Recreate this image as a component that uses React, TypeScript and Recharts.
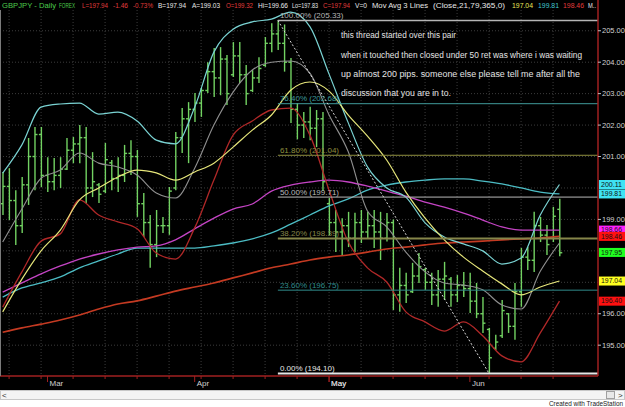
import React from 'react';
import { ComposedChart, Bar, Line, XAxis, YAxis, CartesianGrid, ReferenceLine, ReferenceDot } from 'recharts';

// daily OHLC, GBPJPY
const highs = [200.51, 200.63, 199.93, 200.35, 201.59, 201.94, 201.94, 200.98, 200.95, 200.98,
  201.59, 201.62, 202.00, 201.94, 201.14, 200.16, 201.43, 200.89, 200.98, 201.37,
  201.52, 201.21, 199.84, 199.14, 199.30, 199.08, 200.03, 201.78, 202.54, 202.73,
  203.02, 203.18, 204.00, 204.45, 204.48, 204.23, 204.64, 204.64, 203.91, 203.75,
  204.16, 204.80, 205.24, 205.33, 205.20, 204.13, 202.70, 202.42, 202.58, 202.48,
  202.42, 199.68, 199.30, 199.04, 199.24, 199.21, 199.30, 199.24, 199.30, 199.24,
  199.20, 199.00, 197.46, 197.30, 197.62, 197.93, 197.46, 197.30, 197.39, 197.65,
  197.17, 197.23, 197.33, 197.30, 196.98, 196.53, 195.55, 195.33, 196.44, 196.02,
  196.98, 198.09, 198.12, 199.24, 199.08, 198.82, 199.40, 199.66];
const lows = [199.14, 198.98, 198.19, 198.57, 199.46, 199.93, 200.03, 199.87, 199.93, 200.00,
  200.57, 200.79, 200.79, 199.52, 199.71, 199.52, 199.84, 199.93, 199.87, 200.19,
  200.41, 199.08, 198.44, 197.46, 197.80, 198.57, 198.51, 199.93, 201.11, 200.79,
  202.10, 202.26, 203.02, 202.89, 202.95, 202.64, 203.53, 203.34, 202.64, 203.05,
  203.34, 203.85, 204.32, 204.39, 203.70, 202.07, 201.55, 201.59, 201.52, 201.30,
  199.90, 198.50, 197.96, 197.87, 198.12, 197.96, 198.25, 198.40, 198.09, 197.71,
  198.30, 196.12, 196.06, 196.34, 196.66, 196.98, 196.76, 196.28, 196.22, 196.44,
  196.22, 196.37, 196.53, 196.02, 195.86, 195.39, 194.10, 194.85, 195.23, 195.39,
  195.17, 196.22, 197.39, 197.33, 198.28, 197.87, 198.28, 197.83];
const opens = [199.50, 200.05, 199.60, 198.80, 200.10, 201.00, 201.70, 200.40, 200.20, 200.40,
  200.60, 201.20, 201.40, 201.60, 200.00, 200.10, 199.90, 200.80, 200.30, 200.40,
  201.10, 201.00, 199.50, 198.90, 198.20, 198.80, 198.80, 200.00, 201.60, 202.20,
  202.50, 202.70, 203.10, 203.70, 203.50, 204.10, 203.60, 204.20, 203.60, 203.10,
  203.50, 203.90, 204.60, 204.90, 204.60, 204.00, 202.50, 202.00, 202.10, 201.90,
  202.20, 199.50, 198.90, 198.60, 198.80, 198.40, 198.90, 198.60, 198.80, 198.60,
  198.40, 198.90, 196.60, 196.90, 196.70, 197.20, 197.40, 197.00, 196.60, 197.10,
  197.10, 196.60, 196.90, 196.80, 196.40, 196.00, 195.50, 194.90, 195.30, 196.00,
  195.60, 196.70, 197.80, 197.70, 198.80, 198.50, 198.40, 199.32];
const closes = [200.05, 199.60, 198.80, 200.10, 201.00, 201.70, 200.40, 200.20, 200.40, 200.60,
  201.20, 201.40, 201.60, 200.00, 200.20, 199.80, 200.90, 200.30, 200.40, 201.10,
  201.00, 199.50, 198.90, 198.20, 198.80, 198.80, 199.90, 201.60, 202.20, 202.50,
  202.70, 203.10, 203.70, 203.50, 204.10, 203.00, 204.20, 203.60, 203.00, 203.50,
  203.80, 204.60, 204.90, 204.60, 204.00, 202.50, 202.00, 202.10, 201.90, 202.20,
  200.20, 198.90, 198.60, 198.80, 198.40, 198.90, 198.60, 198.80, 198.60, 198.40,
  198.90, 196.60, 196.90, 196.60, 197.20, 197.50, 197.00, 196.60, 197.10, 197.20,
  196.60, 196.90, 196.80, 196.40, 196.00, 195.70, 194.60, 195.10, 196.10, 195.60,
  196.70, 197.80, 197.70, 198.80, 198.50, 198.20, 199.10, 197.94];

// indicator lines, read every third bar
const lineIdx = [0, 3, 6, 9, 12, 15, 18, 21, 24, 27, 30, 33, 36, 39, 42, 45, 48, 51, 54, 57, 60, 63, 66, 69, 72, 75, 78, 81, 84, 87];
const upperBand = [200.47, 201.37, 202.57, 202.67, 202.70, 202.35, 202.41, 202.13, 201.52, 201.40,
  202.57, 204.32, 205.05, 205.28, 205.37, 205.59, 205.13, 203.62, 202.07, 200.67,
  200.00, 199.71, 198.89, 198.44, 198.22, 198.00, 197.58, 197.77, 199.14, 200.11];
const midBand = [198.28, 199.33, 200.31, 200.57, 201.11, 200.79, 200.67, 200.41, 199.84, 199.68,
  200.63, 202.00, 203.05, 203.75, 204.00, 204.04, 203.65, 202.32, 201.15, 199.27,
  198.76, 197.96, 197.33, 196.98, 196.91, 196.76, 196.28, 196.15, 197.35, 198.25];
const lowerBand = [196.21, 197.33, 198.31, 198.54, 199.62, 199.14, 198.92, 198.70, 197.93, 197.74,
  198.73, 200.25, 201.68, 202.13, 202.48, 202.54, 201.68, 199.93, 198.28, 197.46,
  197.01, 196.06, 195.74, 195.45, 195.74, 195.30, 194.66, 194.47, 195.39, 196.40];
const ma21 = [196.06, 197.10, 198.00, 198.66, 199.62, 200.00, 200.35, 200.57, 200.48, 200.25,
  200.51, 200.79, 201.30, 201.84, 202.32, 203.11, 203.37, 203.08, 202.32, 201.65,
  200.89, 199.87, 199.04, 198.35, 197.80, 197.36, 196.95, 196.60, 196.85, 197.04];
const ma79 = [196.53, 196.82, 196.98, 197.17, 197.46, 197.68, 197.90, 198.09, 198.09, 198.09,
  198.09, 198.16, 198.25, 198.38, 198.57, 198.85, 199.14, 199.43, 199.65, 199.93,
  200.09, 200.19, 200.25, 200.29, 200.29, 200.22, 200.13, 200.00, 199.87, 199.81];
const ma365 = [195.41, 195.55, 195.67, 195.80, 195.96, 196.15, 196.31, 196.41, 196.56, 196.72,
  196.85, 196.98, 197.14, 197.30, 197.46, 197.58, 197.71, 197.80, 197.87, 197.96,
  198.06, 198.12, 198.19, 198.25, 198.28, 198.31, 198.35, 198.38, 198.41, 198.46];
const maMagenta = [196.69, 196.98, 197.27, 197.52, 197.74, 197.90, 198.03, 198.12, 198.16, 198.35,
  198.70, 199.04, 199.33, 199.49, 199.90, 200.09, 200.19, 200.25, 200.19, 200.06,
  199.90, 199.74, 199.55, 199.39, 199.20, 198.98, 198.76, 198.66, 198.66, 198.66];

const monthTicks = [7, 30, 51, 73];
const monthNames = ['Mar', 'Apr', 'May', 'Jun'];
const weekTicks = [1, 6, 11, 16, 21, 26, 31, 36, 41, 46, 51, 56, 61, 66, 71, 76, 81, 86];
const priceTicks = [195, 196, 199, 201, 202, 203, 204, 205];
const priceGrid = [195, 196, 197, 198, 199, 200, 201, 202, 203, 204, 205];

// fibonacci retracement from the high bar to the low bar
const fibHighBar = 43;
const fibLowBar = 76;
const fibNames = ['100.00%', '76.40%', '61.80%', '50.00%', '38.20%', '23.60%', '0.00%'];
const fibPrices = [205.33, 202.68, 201.04, 199.71, 198.39, 196.75, 194.10];
const fibColors = ['#b4b4b4', '#3f9a9a', '#8f8f3f', '#b8b8b8', '#86864a', '#2f8a8a', '#e6e6e6'];
const fibWidths = [1.5, 1, 1, 1, 2, 1, 2];

// last values shown on the price scale
const markValues = [200.11, 199.81, 198.66, 198.46, 197.95, 197.04, 196.40];
const markColors = ['#3fe3f3', '#3fe3f3', '#ff20ff', '#ff1010', '#20ff20', '#ffff20', '#ff1010'];

const xMin = -0.42;
const xMax = 93.02;
const yMin = 194.02;
const yMax = 205.66;

const data = highs.map((h, i) => {
  const row: any = { i, range: [lows[i], h], open: opens[i], close: closes[i] };
  const k = lineIdx.indexOf(i);
  if (k >= 0) {
    row.ub = upperBand[k];
    row.mb = midBand[k];
    row.lb = lowerBand[k];
    row.ma21 = ma21[k];
    row.ma79 = ma79[k];
    row.ma365 = ma365[k];
    row.mag = maMagenta[k];
  }
  return row;
});

const xTicks = [...weekTicks, ...monthTicks].sort((a, b) => a - b);

const OhlcBar = (props: any) => {
  const { x, y, width, height, payload } = props;
  const top = Math.min(y, y + height);
  const h = Math.abs(height);
  const [lo, hi] = payload.range;
  const cx = x + width / 2;
  const py = (v: number) => top + ((hi - v) / (hi - lo)) * h;
  return (
    <g stroke="#72d262" strokeWidth={1.4}>
      <line x1={cx} x2={cx} y1={top} y2={top + h} />
      <line x1={cx - 2.5} x2={cx} y1={py(payload.open)} y2={py(payload.open)} />
      <line x1={cx} x2={cx + 2.5} y1={py(payload.close)} y2={py(payload.close)} />
    </g>
  );
};

const MonthTick = (props: any) => {
  const { x, y, payload } = props;
  const m = monthTicks.indexOf(payload.value);
  return (
    <g>
      <line x1={x} x2={x} y1={y} y2={y + (m >= 0 ? 6 : 3)} stroke="#a02020" />
      {m >= 0 && (
        <text x={x + 2} y={y + 10} fill="#d0d0d0" fontSize={8}>{monthNames[m]}</text>
      )}
    </g>
  );
};

const headerParts = [
  { t: 'GBPJPY - Daily', x: 2, w: 54, c: '#4ccc4c' },
  { t: 'FOREX', x: 59, w: 16, c: '#4ccc4c' },
  { t: 'L=197.94', x: 82, w: 26, c: '#e03c3c' },
  { t: '-1.46', x: 113, w: 15, c: '#e03c3c' },
  { t: '-0.73%', x: 133, w: 20, c: '#e03c3c' },
  { t: 'B=197.94', x: 158, w: 28, c: '#e8e8e8' },
  { t: 'A=199.03', x: 192, w: 28, c: '#e8e8e8' },
  { t: 'O=199.32', x: 226, w: 27, c: '#e03c3c' },
  { t: 'Hi=199.66', x: 258, w: 30, c: '#e8e8e8' },
  { t: 'Lo=197.83', x: 292, w: 26, c: '#e8e8e8' },
  { t: 'C=197.94', x: 323, w: 27, c: '#e03c3c' },
  { t: 'V=0', x: 355, w: 12, c: '#e8e8e8' },
  { t: 'Mov Avg 3 Lines', x: 372, w: 56, c: '#e8e8e8' },
  { t: '(Close,21,79,365,0)', x: 433, w: 72, c: '#e8e8e8' },
  { t: '197.04', x: 512, w: 21, c: '#e8e858' },
  { t: '199.81', x: 538, w: 21, c: '#40c8d0' },
  { t: '198.46', x: 563, w: 21, c: '#e03c3c' },
  { t: 'M..', x: 588, w: 8, c: '#e8e8e8' },
];

const notes = [
  { t: 'this thread started over this pair', y: 38, w: 115 },
  { t: 'when it touched then closed under 50 ret was where i was waiting', y: 58, w: 241 },
  { t: 'up almost 200 pips. someone else please tell me after all the', y: 77, w: 239 },
  { t: 'discussion that you are in to.', y: 96, w: 110 },
];

export default function App() {
  return (
    <div style={{ position: 'relative', width: 625, height: 407, background: '#fff', fontFamily: '"Liberation Sans", Arial, sans-serif', overflow: 'hidden' }}>
      <style>{'body{margin:0}'}</style>
      <div style={{ position: 'absolute', left: 0, top: 0, width: 625, height: 390, background: '#000' }} />
      <div style={{ position: 'absolute', left: 0, top: 0 }}>
        <ComposedChart width={625} height={407} data={data} margin={{ top: 10, right: 0, bottom: 19, left: 0 }}>
          <CartesianGrid stroke="#3c3c3c" strokeDasharray="1 2" verticalValues={weekTicks} horizontalValues={priceGrid} />
          <XAxis dataKey="i" type="number" domain={[xMin, xMax]} allowDataOverflow ticks={xTicks} interval={0}
            height={12} tickLine={false} tickSize={0} tickMargin={0}
            axisLine={{ stroke: '#a02020', strokeWidth: 1.5 }} tick={MonthTick} />
          <YAxis orientation="right" width={27} domain={[yMin, yMax]} allowDataOverflow ticks={priceTicks} interval={0}
            axisLine={{ stroke: '#a02020', strokeWidth: 1.5 }} tickLine={{ stroke: '#c0c0c0' }} tickSize={3} tickMargin={1}
            tick={{ fill: '#d0d0d0', fontSize: 7.5 }} tickFormatter={(v: number) => v.toFixed(2)} />

          <Line dataKey="ma365" type="monotone" stroke="#c43a22" strokeWidth={1.6} dot={false} connectNulls isAnimationActive={false} />
          <Line dataKey="ma79" type="monotone" stroke="#4cbcc4" strokeWidth={1.3} dot={false} connectNulls isAnimationActive={false} />
          <Line dataKey="mag" type="monotone" stroke="#c444c4" strokeWidth={1.3} dot={false} connectNulls isAnimationActive={false} />
          <Line dataKey="lb" type="monotone" stroke="#b02828" strokeWidth={1.3} dot={false} connectNulls isAnimationActive={false} />
          <Line dataKey="mb" type="monotone" stroke="#909090" strokeWidth={1.1} dot={false} connectNulls isAnimationActive={false} />
          <Line dataKey="ub" type="monotone" stroke="#7ad3d3" strokeWidth={1.2} dot={false} connectNulls isAnimationActive={false} />
          <Line dataKey="ma21" type="monotone" stroke="#e6e67a" strokeWidth={1.2} dot={false} connectNulls isAnimationActive={false} />

          <Bar dataKey="range" barSize={5} shape={OhlcBar} isAnimationActive={false} />

          {fibPrices.map((p, k) => (
            <ReferenceLine key={'fib' + k} segment={[{ x: fibHighBar, y: p }, { x: xMax, y: p }]}
              stroke={fibColors[k]} strokeWidth={fibWidths[k]} />
          ))}
          {fibPrices.map((p, k) => (
            <ReferenceDot key={'fibl' + k} x={fibHighBar} y={p} r={0}
              shape={(s: any) => (
                <text x={s.cx + 2} y={s.cy - 2.5} fill={fibColors[k]} fontSize={8}>
                  {fibNames[k] + ' (' + p.toFixed(2) + ')'}
                </text>
              )} />
          ))}
          <ReferenceLine segment={[{ x: fibHighBar, y: fibPrices[0] }, { x: fibLowBar, y: fibPrices[6] }]}
            stroke="#d8d8d8" strokeDasharray="2 2" />

          {markValues.map((v, k) => (
            <ReferenceDot key={'mk' + k} x={xMax} y={v} r={0} ifOverflow="visible"
              shape={(s: any) => (
                <g>
                  <rect x={s.cx + 1} y={s.cy - 4.5} width={26} height={9} fill={markColors[k]} />
                  <text x={s.cx + 3} y={s.cy + 2.2} fill="#101010" fontSize={6.5} textLength={21} lengthAdjust="spacingAndGlyphs">
                    {v.toFixed(2)}
                  </text>
                </g>
              )} />
          ))}
        </ComposedChart>
      </div>
      <svg width={625} height={407} style={{ position: 'absolute', left: 0, top: 0, pointerEvents: 'none' }}>
        <line x1={0.5} x2={0.5} y1={10} y2={376} stroke="#7a7a7a" />
        <line x1={598} x2={598} y1={0} y2={10} stroke="#a02020" strokeWidth={1.5} />
        {headerParts.map((h, k) => (
          <text key={k} x={h.x} y={8} fill={h.c} fontSize={6.5} textLength={h.w} lengthAdjust="spacingAndGlyphs">{h.t}</text>
        ))}
        {notes.map((n, k) => (
          <text key={k} x={341} y={n.y} fill="#e4e4e4" fontSize={8.5} textLength={n.w} lengthAdjust="spacingAndGlyphs">{n.t}</text>
        ))}
        <rect x={0.5} y={390.5} width={624} height={9} fill="#f4f4f4" stroke="#c8c8c8" />
        <text x={2} y={398} fill="#303030" fontSize={8}>&lt;</text>
        <rect x={606.5} y={391.5} width={8} height={7} fill="#e8e8e8" stroke="#a0a0a0" />
        <text x={618} y={398} fill="#303030" fontSize={8}>&gt;</text>
        <text x={549} y={406} fill="#202020" fontSize={6.5} textLength={74} lengthAdjust="spacingAndGlyphs">Created with TradeStation</text>
      </svg>
    </div>
  );
}
